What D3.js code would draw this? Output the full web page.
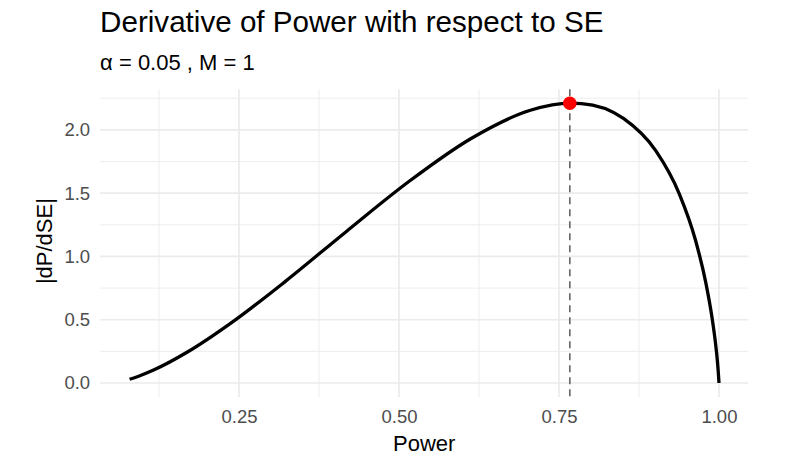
<!DOCTYPE html>
<html><head><meta charset="utf-8">
<script src="https://cdn.jsdelivr.net/npm/d3@7"></script>
<style>body{margin:0;background:#fff}svg{display:block}text{font-family:"Liberation Sans",Arial,Helvetica,sans-serif}</style>
</head><body><svg id="c" width="802" height="458"></svg>
<script>
// Curve values: Power (x) and |dP/dSE| (y)
const power = [0.0790,0.0921,0.1165,0.1701,0.2395,0.3230,0.4169,0.5160,0.6141,0.7054,0.7677,0.7852,0.8508,0.9015,0.9382,0.9633,0.9793,0.9890,0.9945,0.9974,0.9988,0.9998,1.0000,1.0000];
const deriv = [0.0295,0.0515,0.1022,0.2467,0.4809,0.8052,1.1939,1.5939,1.9361,2.1551,2.2110,2.2083,2.0907,1.8338,1.4930,1.1303,0.7968,0.5235,0.3209,0.1837,0.0982,0.0229,0.0041,0.0000];
const peakPower = 0.767, peakValue = 2.211;
const xTicks = [0.25,0.50,0.75,1.00];
const xMinor = [0.125,0.375,0.625,0.875];
const yTicks = [0.0,0.5,1.0,1.5,2.0];
const yMinor = [0.25,0.75,1.25,1.75,2.25];
const title = "Derivative of Power with respect to SE";
const subtitle = "α = 0.05 , M = 1";

const svg = d3.select("#c");
const L=100.1,R=748.4,T=89.2,B=397;
function expand(e){const r=e[1]-e[0];return [e[0]-0.05*r,e[1]+0.05*r];}
const x = d3.scaleLinear().domain(expand(d3.extent(power))).range([L,R]);
const y = d3.scaleLinear().domain(expand([0,d3.max(deriv)])).range([B,T]);

const g = svg.append("g");
g.selectAll(".vmin").data(xMinor).join("line").attr("x1",d=>x(d)).attr("x2",d=>x(d)).attr("y1",T).attr("y2",B).attr("stroke","#ebebeb").attr("stroke-width",0.9);
g.selectAll(".hmin").data(yMinor).join("line").attr("y1",d=>y(d)).attr("y2",d=>y(d)).attr("x1",L).attr("x2",R).attr("stroke","#ebebeb").attr("stroke-width",0.9);
g.selectAll(".vmaj").data(xTicks).join("line").attr("x1",d=>x(d)).attr("x2",d=>x(d)).attr("y1",T).attr("y2",B).attr("stroke","#ebebeb").attr("stroke-width",1.7);
g.selectAll(".hmaj").data(yTicks).join("line").attr("y1",d=>y(d)).attr("y2",d=>y(d)).attr("x1",L).attr("x2",R).attr("stroke","#ebebeb").attr("stroke-width",1.7);

svg.append("line").attr("x1",x(peakPower)).attr("x2",x(peakPower)).attr("y1",T).attr("y2",B)
  .attr("stroke","#666").attr("stroke-width",1.6).attr("stroke-dasharray","7,5");

const pts = power.map((p,i)=>[p,deriv[i]]);
svg.append("path").datum(pts).attr("fill","none").attr("stroke","#000").attr("stroke-width",3.3)
  .attr("d",d3.line().x(d=>x(d[0])).y(d=>y(d[1])).curve(d3.curveMonotoneX));

svg.append("circle").attr("cx",x(peakPower)).attr("cy",y(peakValue)).attr("r",6.8).attr("fill","#ff0000");

// axes text
const xa = svg.append("g").attr("transform",`translate(0,${B})`).call(d3.axisBottom(x).tickValues(xTicks).tickFormat(d3.format(".2f")).tickSize(0).tickPadding(13));
const ya = svg.append("g").attr("transform",`translate(${L},0)`).call(d3.axisLeft(y).tickValues(yTicks).tickFormat(d3.format(".1f")).tickSize(0).tickPadding(10));
[xa,ya].forEach(a=>{a.select(".domain").remove();a.selectAll("text").attr("fill","#4d4d4d").style("font-size","18.5px").style("font-family",'"Liberation Sans",Arial,sans-serif');});

svg.append("text").attr("x",(L+R)/2).attr("y",451).attr("text-anchor","middle").style("font-size","22px").attr("fill","#000").text("Power");
svg.append("text").attr("transform",`translate(52,${(T+B)/2 - 2}) rotate(-90)`).attr("text-anchor","middle").style("font-size","22px").attr("fill","#000").text("|dP/dSE|");

svg.append("text").attr("x",L).attr("y",32).style("font-size","29.6px").attr("fill","#000").text(title);
svg.append("text").attr("x",L).attr("y",70).style("font-size","22px").attr("fill","#000").text(subtitle);
</script></body></html>
